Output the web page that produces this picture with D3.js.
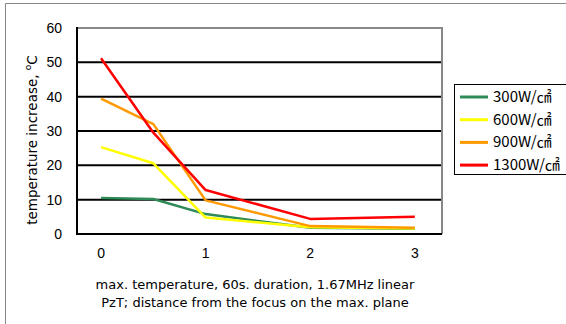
<!DOCTYPE html>
<html>
<head>
<meta charset="utf-8">
<script src="https://cdn.jsdelivr.net/npm/d3@7"></script>
<style>
  body { margin: 0; background: #fff; }
  text { font-family: "Liberation Sans", Arial, sans-serif; fill: #000; }
</style>
</head>
<body>
<svg id="chart" width="566" height="324"></svg>
<script>
const distances = [0, 0.5, 1, 2, 3];
const seriesNames = ['300W/㎠', '600W/㎠', '900W/㎠', '1300W/㎠'];
const seriesColors = ['#2e8b57', '#ffff00', '#ff9900', '#ff0000'];
const w300 = [10.5, 10.2, 5.8, 1.8, 1.5];
const w600 = [25.3, 20.6, 4.8, 2.0, 1.6];
const w900 = [39.4, 32.0, 9.8, 2.3, 1.8];
const w1300 = [51.2, 29.5, 12.8, 4.4, 5.0];
const yTicks = [0, 10, 20, 30, 40, 50, 60];
const xTicks = [0, 1, 2, 3];
const titleLines = ['max. temperature, 60s. duration, 1.67MHz linear', 'PzT; distance from the focus on the max. plane'];

const svg = d3.select('#chart');

// outer frame (only left and top visible)
svg.append('path')
    .attr('d', 'M5.5,324 L5.5,3.5 L566,3.5')
    .attr('fill', 'none')
    .attr('stroke', '#888')
    .attr('stroke-width', 1);

const plotLeft = 77, plotRight = 442, plotTop = 28, plotBottom = 234;

const x = d3.scaleLinear().domain([-0.23, 3.26]).range([plotLeft, plotRight]);
const y = d3.scaleLinear().domain([0, 60]).range([plotBottom, plotTop]);

// gridlines
svg.append('g')
    .selectAll('line')
    .data(yTicks.filter(d => d > 0 && d < 60))
    .enter()
    .append('line')
    .attr('x1', plotLeft).attr('x2', plotRight)
    .attr('y1', d => y(d)).attr('y2', d => y(d))
    .attr('stroke', '#000').attr('stroke-width', 2);

// plot border top/right in gray
svg.append('path')
    .attr('d', `M${plotLeft},${y(60)} L${plotRight},${y(60)} L${plotRight},${plotBottom}`)
    .attr('fill', 'none')
    .attr('stroke', '#888')
    .attr('stroke-width', 2);

// axes lines
svg.append('line')
    .attr('x1', plotLeft).attr('x2', plotLeft)
    .attr('y1', y(60) - 1).attr('y2', plotBottom + 1)
    .attr('stroke', '#000').attr('stroke-width', 2);
svg.append('line')
    .attr('x1', plotLeft).attr('x2', plotRight)
    .attr('y1', plotBottom).attr('y2', plotBottom)
    .attr('stroke', '#000').attr('stroke-width', 2);

// y tick labels
svg.append('g')
    .selectAll('text')
    .data(yTicks)
    .enter()
    .append('text')
    .attr('x', 62)
    .attr('y', d => y(d) + 5)
    .attr('text-anchor', 'end')
    .style('font-size', '14px')
    .text(d => d);

// x tick labels
svg.append('g')
    .selectAll('text')
    .data(xTicks)
    .enter()
    .append('text')
    .attr('x', d => x(d))
    .attr('y', 258)
    .attr('text-anchor', 'middle')
    .style('font-size', '14px')
    .text(d => d);

// series lines
const allSeries = [w300, w600, w900, w1300];
const line = d3.line()
    .x((d, i) => x(distances[i]))
    .y(d => y(d));

allSeries.forEach((s, i) => {
    svg.append('path')
        .datum(s)
        .attr('fill', 'none')
        .attr('stroke', seriesColors[i])
        .attr('stroke-width', 2.5)
        .attr('stroke-linejoin', 'round')
        .attr('d', line);
});

// y axis label
const yLabel = svg.append('text')
    .attr('transform', 'translate(37,140) rotate(-90)')
    .attr('text-anchor', 'middle')
    .style('font-family', '"DejaVu Sans", sans-serif')
    .style('font-size', '13.5px');
yLabel.append('tspan').text('temperature increase, ');
yLabel.append('tspan').attr('dy', -6).style('font-size', '9px').text('o');
yLabel.append('tspan').attr('dy', 6).text('C');

// bottom title
svg.append('g')
    .selectAll('text')
    .data(titleLines)
    .enter()
    .append('text')
    .attr('x', 255)
    .attr('y', (d, i) => 289 + i * 18)
    .attr('text-anchor', 'middle')
    .style('font-family', '"DejaVu Sans", sans-serif')
    .style('font-size', '13px')
    .text(d => d);

// legend
const legend = svg.append('g');
legend.append('rect')
    .attr('x', 454.5).attr('y', 84.5)
    .attr('width', 120).attr('height', 90)
    .attr('fill', '#fff')
    .attr('stroke', '#000').attr('stroke-width', 1);

seriesNames.forEach((name, i) => {
    const ly = 97 + i * 22.7;
    legend.append('line')
        .attr('x1', 460).attr('x2', 488)
        .attr('y1', ly).attr('y2', ly)
        .attr('stroke', seriesColors[i]).attr('stroke-width', 3);
    legend.append('text')
        .attr('x', 493)
        .attr('y', ly + 5)
        .style('font-size', '15px')
        .style('font-family', '"Noto Sans CJK JP", "Liberation Sans", sans-serif')
        .text(name);
});
</script>
</body>
</html>
